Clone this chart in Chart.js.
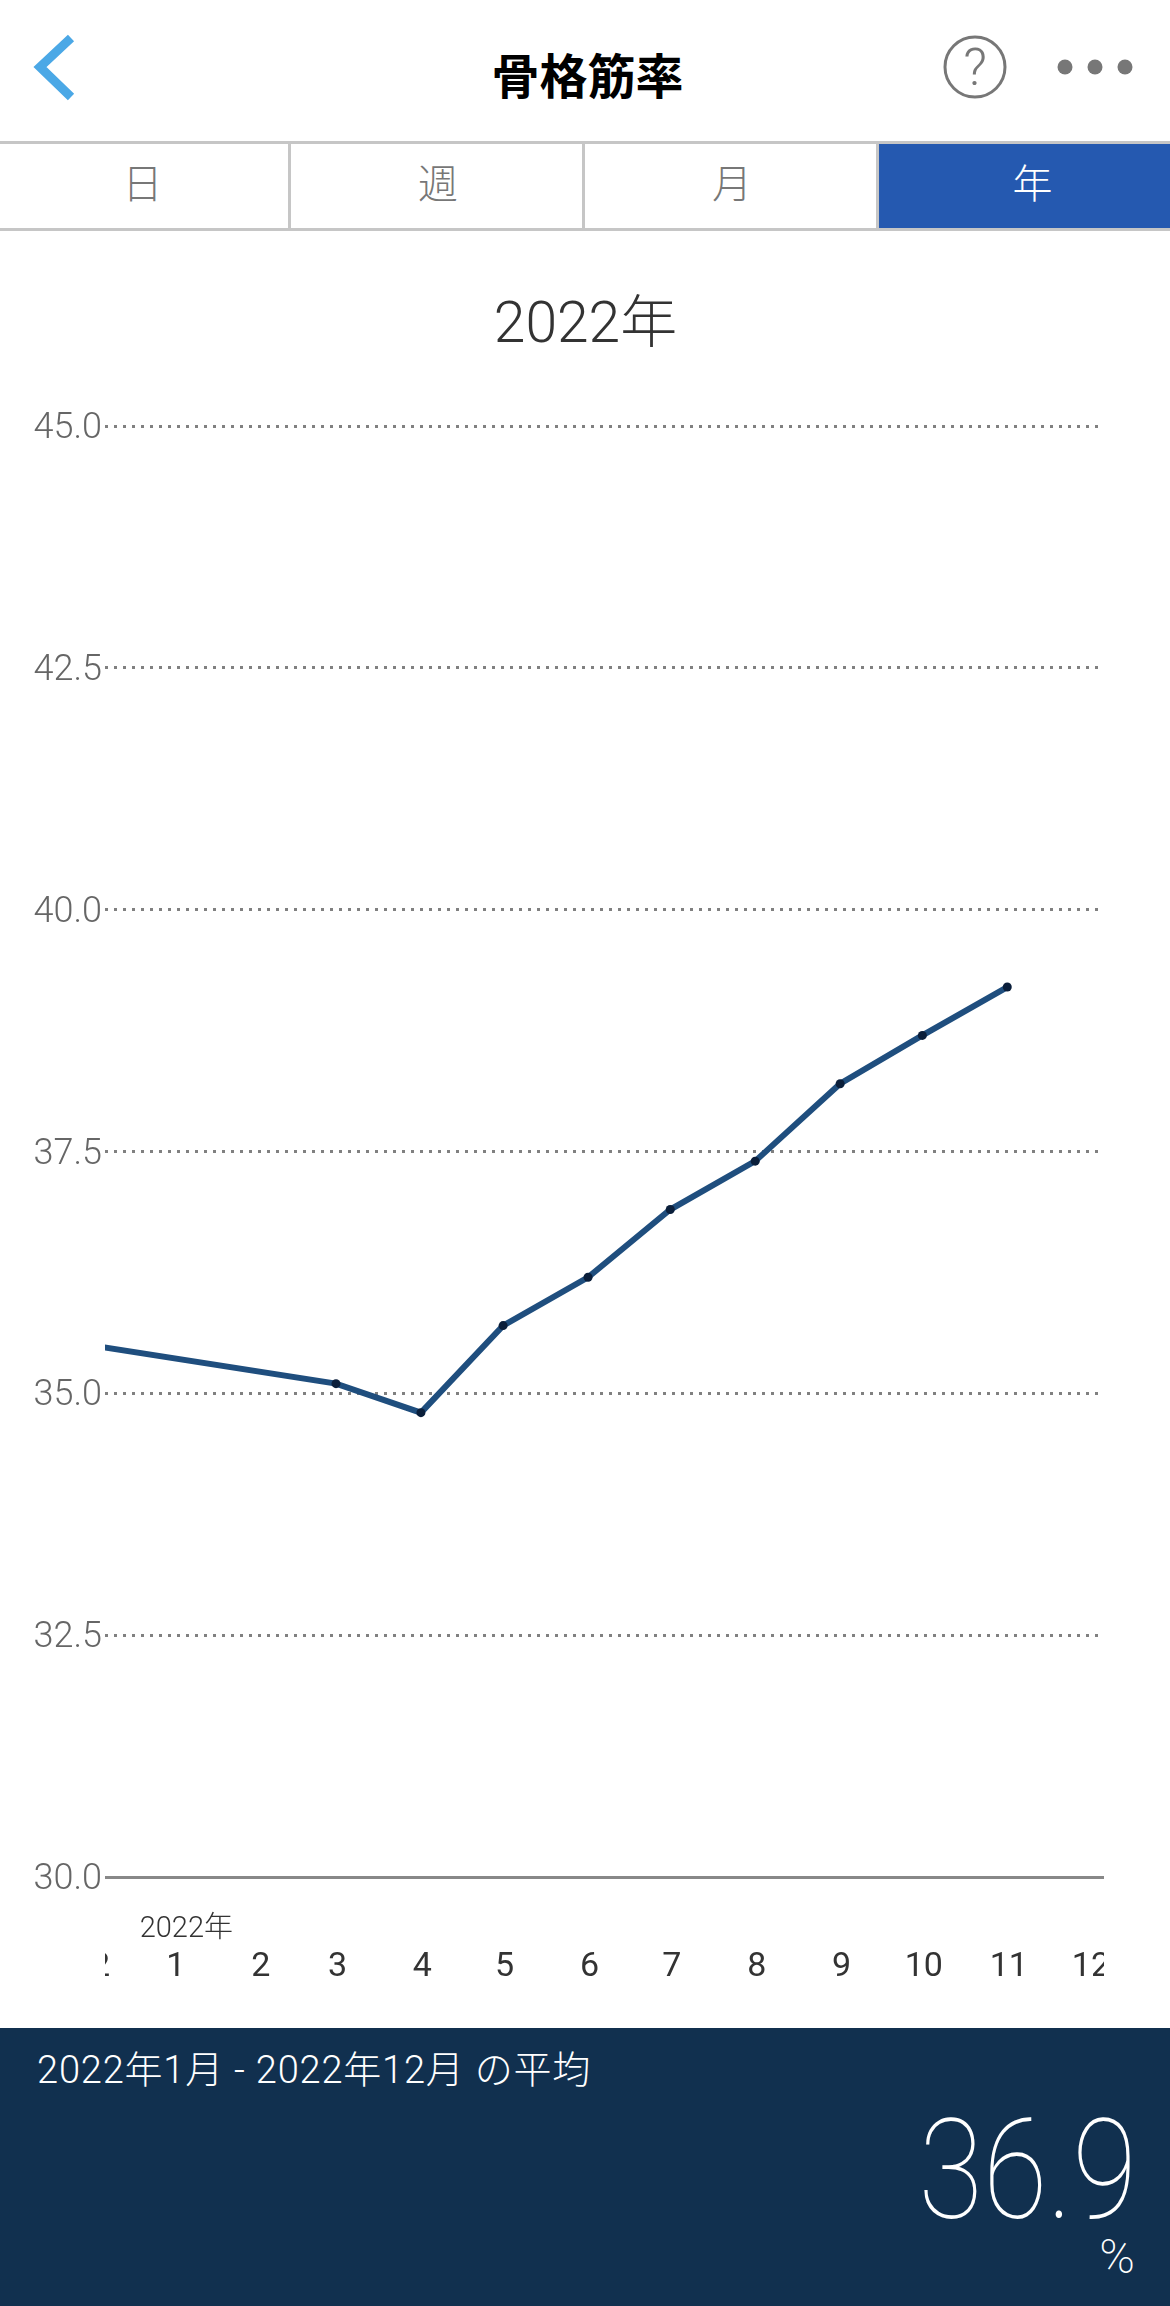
<!DOCTYPE html>
<html lang="ja">
<head>
<meta charset="utf-8">
<title>骨格筋率</title>
<script src="https://cdn.jsdelivr.net/npm/chart.js@4"></script>
<style>
  * { box-sizing: border-box; }
  html, body { margin: 0; padding: 0; background: #fff; }
  body { position: relative; width: 1170px; height: 2306px; overflow: hidden;
         font-family: Roboto, "Noto Sans CJK JP", sans-serif; }
  .abs { position: absolute; white-space: nowrap; line-height: 1; }
  #title { left: 0; width: 1175px; top: 49px; text-align: center; font: 700 48px "Noto Sans CJK JP"; line-height: 48px; color: #000; }
  #tabs { position: absolute; left: 0; top: 141px; width: 1170px; height: 90px;
          border-top: 3px solid #c6c6c6; border-bottom: 3px solid #c6c6c6; display: flex; }
  .tab { height: 84px; font: 300 40px "Noto Sans CJK JP"; line-height: 74px; color: #777; text-align: center;
         border-right: 3px solid #c6c6c6; }
  .tab.on { background: #2559b0; color: #fff; border-right: 0; }
  #heading { left: 0; width: 1171px; top: 276px; text-align: center; font: 300 57px Roboto, "Noto Sans CJK JP"; color: #333; }
  #chartBox { position: absolute; left: 0; top: 380px; width: 1170px; height: 1648px; }
  #panel { position: absolute; left: 0; top: 2028px; width: 1170px; height: 278px; background: #11304f; color: #fff; }
  #range { left: 37px; top: 11px; font: 300 38px Roboto, "Noto Sans CJK JP"; letter-spacing: .8px; }
  #avg { right: 33px; top: 60px; font: 100 140px Roboto; transform-origin: right top; transform: scaleX(.84); }
  #unit { right: 35px; top: 200px; font: 200 48px Roboto; }
</style>
</head>
<body>
<svg class="abs" style="left:0;top:0" width="1170" height="140">
  <polyline points="71,38 40,67 71,97" fill="none" stroke="#4ba8e6" stroke-width="9"/>
  <circle cx="975" cy="67" r="30" fill="none" stroke="#777" stroke-width="3"/>
  <text x="975" y="85" text-anchor="middle" font-family="Roboto" font-weight="300" font-size="52" fill="#777">?</text>
  <circle cx="1065" cy="67" r="7.5" fill="#777"/>
  <circle cx="1095" cy="67" r="7.5" fill="#777"/>
  <circle cx="1125" cy="67" r="7.5" fill="#777"/>
</svg>
<div id="title" class="abs">骨格筋率</div>
<div id="tabs">
  <div class="tab" style="width:291px;padding-right:3px">日</div>
  <div class="tab" style="width:294px;padding-left:3px">週</div>
  <div class="tab" style="width:294px;padding-left:3px">月</div>
  <div class="tab on" style="width:291px;padding-left:16px">年</div>
</div>
<div id="heading" class="abs">2022年</div>
<div id="chartBox"><canvas id="chart"></canvas></div>
<div id="panel">
  <div id="range" class="abs">2022年1月 - 2022年12月 の平均</div>
  <div id="avg" class="abs">36.9</div>
  <div id="unit" class="abs">%</div>
</div>
<script>
// day of year (from 2022-01-01) for each month tick, first one is Dec 2021
const monthDays = [-31, 0, 31, 59, 90, 120, 151, 181, 212, 243, 273, 304, 334];
const monthLabels = ['12', '1', '2', '3', '4', '5', '6', '7', '8', '9', '10', '11', '12'];
const muscleRate = [35.5, null, null, 35.1, 34.8, 35.7, 36.2, 36.9, 37.4, 38.2, 38.7, 39.2, null];
const yearLabel = '2022年';

// month labels are clipped to the plot width, the app scrolls them sideways
const monthAxis = {
  id: 'monthAxis',
  afterDraw(chart) {
    const { ctx, chartArea, scales } = chart;
    ctx.save();
    ctx.beginPath();
    ctx.rect(chartArea.left, chartArea.bottom, chartArea.right - chartArea.left, 150);
    ctx.clip();
    ctx.fillStyle = '#333';
    ctx.textAlign = 'center';
    ctx.textBaseline = 'middle';
    ctx.font = '400 34px Roboto';
    monthDays.forEach((d, i) => {
      ctx.fillText(monthLabels[i], scales.x.getPixelForValue(d) + 1.5, chartArea.bottom + 90);
    });
    ctx.font = '300 29px Roboto, "Noto Sans CJK JP"';
    ctx.fillText(yearLabel, scales.x.getPixelForValue(monthDays[1]) + 12, chartArea.bottom + 53);
    ctx.restore();
  }
};

new Chart(document.getElementById('chart').getContext('2d'), {
  type: 'line',
  data: {
    labels: monthLabels,
    datasets: [{
      data: muscleRate.map((v, i) => ({ x: monthDays[i], y: v })),
      borderColor: '#1f4e7e',
      borderWidth: 6,
      pointRadius: 4.5,
      pointBackgroundColor: '#0a1e3a',
      pointBorderWidth: 0,
      spanGaps: true,
      tension: 0,
      clip: 0
    }]
  },
  options: {
    responsive: true,
    maintainAspectRatio: false,
    animation: false,
    events: [],
    layout: { padding: { top: 46, right: 66, bottom: 151, left: 0 } },
    plugins: { legend: { display: false }, tooltip: { enabled: false } },
    scales: {
      x: { type: 'linear', display: false, min: -25.3, max: 339.3 },
      y: {
        min: 30,
        max: 45,
        afterFit(scale) { scale.width = 105; },
        ticks: {
          stepSize: 2.5,
          color: '#666',
          padding: 3,
          // small line height with a blank first line nudges the label down to sit on its grid line
          font: { size: 36, family: 'Roboto', weight: 300, lineHeight: 0.17 },
          callback: v => ['', v.toFixed(1)]
        },
        grid: {
          drawTicks: false,
          color: ctx => (ctx.tick.value === 30 ? '#888' : '#808080'),
          lineWidth: 3
        },
        border: { display: false, dash: ctx => (ctx.tick.value === 30 ? [] : [3, 6]) }
      }
    }
  },
  plugins: [monthAxis]
});
</script>
</body>
</html>
